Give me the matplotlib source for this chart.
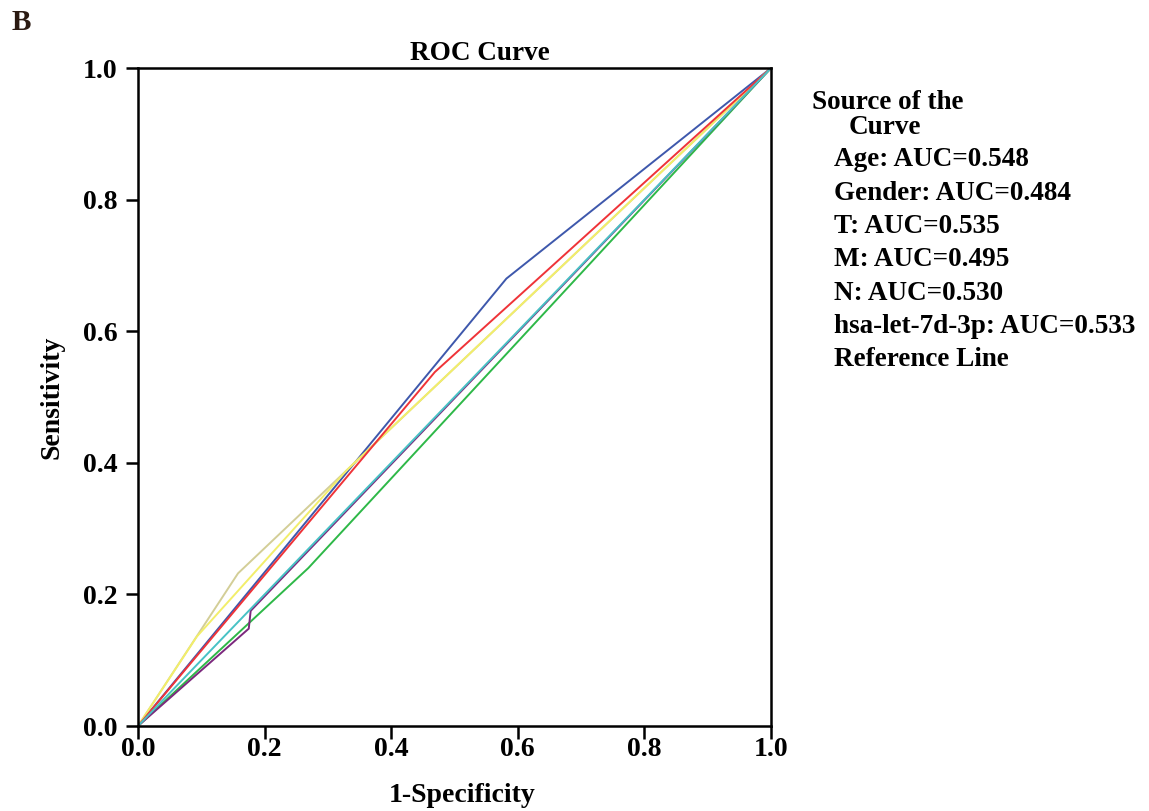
import matplotlib
matplotlib.use("Agg")
import matplotlib.pyplot as plt

plt.rcParams['font.family'] = ['Liberation Serif', 'DejaVu Serif']
plt.rcParams['font.weight'] = 'bold'

# ROC points (1-specificity, sensitivity) for each predictor
labels = ["Age", "Gender", "T", "M", "N", "hsa-let-7d-3p"]
auc = [0.548, 0.484, 0.535, 0.495, 0.530, 0.533]
fpr = [
    [0.0, 0.582, 1.0],
    [0.0, 0.269, 1.0],
    [0.0, 0.158, 1.0],
    [0.0, 0.175, 0.178, 1.0],
    [0.0, 0.093, 0.330, 1.0],
    [0.0, 0.469, 1.0],
]
tpr = [
    [0.0, 0.680, 1.0],
    [0.0, 0.240, 1.0],
    [0.0, 0.232, 1.0],
    [0.0, 0.148, 0.175, 1.0],
    [0.0, 0.136, 0.389, 1.0],
    [0.0, 0.538, 1.0],
]
colors = ["#3E58AC", "#2EB848", "#D3CE97", "#7C287D", "#F2EE6A", "#EF3338"]
ref_color = "#48C2C5"
ticks = [0.0, 0.2, 0.4, 0.6, 0.8, 1.0]

fig = plt.figure(figsize=(11.49, 8.11), dpi=100)
ax = fig.add_axes([0.1201, 0.1048, 0.5509, 0.8113])

for x, y, c in zip(fpr, tpr, colors):
    ax.plot(x, y, color=c, lw=1.4, solid_joinstyle='miter')
ax.plot([0, 1], [0, 1], color=ref_color, lw=1.4)

ax.set_xlim(0, 1)
ax.set_ylim(0, 1)
ax.set_xticks(ticks)
ax.set_yticks(ticks)
ax.set_xticklabels([f"{t:.1f}" for t in ticks], fontsize=20, fontweight='bold')
ax.set_yticklabels([f"{t:.1f}" for t in ticks], fontsize=20, fontweight='bold')
ax.tick_params(direction='out', length=9, width=1.8)
ax.tick_params(axis='x', pad=-1)
ax.tick_params(axis='y', pad=6)
for s in ax.spines.values():
    s.set_linewidth(1.8)

ax.set_title("ROC Curve", fontsize=19.5, fontweight='bold', x=0.54, pad=6)
fig.text(0.402, 0.0197, "1-Specificity", fontsize=20, fontweight='bold', ha='center', va='center')
fig.text(0.045, 0.5105, "Sensitivity", fontsize=20, fontweight='bold', rotation=90, ha='center', va='center')
fig.text(0.010, 0.972, "B", fontsize=21, fontweight='bold', color='#2b1a12', va='center')

# legend as plain text, no handles
fig.text(0.707, 0.874, "Source of the", fontsize=19.5, fontweight='bold', va='center')
fig.text(0.739, 0.843, "Curve", fontsize=19.5, fontweight='bold', va='center')
entries = [f"{n}: AUC={a:.3f}" for n, a in zip(labels, auc)] + ["Reference Line"]
for i, e in enumerate(entries):
    fig.text(0.726, 0.803 - i * 0.0411, e, fontsize=19.5, fontweight='bold', va='center')

fig.savefig("out.png", dpi=100)
